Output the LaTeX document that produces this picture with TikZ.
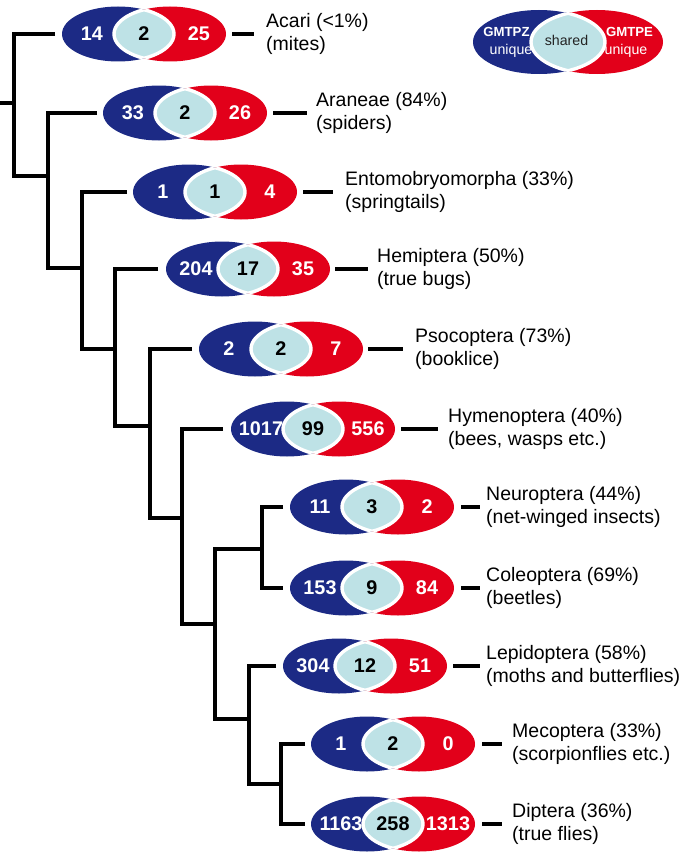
\documentclass[tikz,border=0pt]{standalone}
\usepackage{fontspec}
\setmainfont{Liberation Sans}
\definecolor{gblue}{RGB}{28,42,133}
\definecolor{gred}{RGB}{226,0,26}
\definecolor{lensc}{RGB}{190,226,230}
\definecolor{txtdark}{RGB}{35,35,35}
\tikzset{
  tree/.style={line width=3.3pt, line join=miter},
  dashline/.style={line width=3.3pt},
  lensrim/.style={draw=white, line width=3.4pt},
  num/.style={text=white, inner sep=0pt, font=\bfseries\fontsize{19.8}{22}\selectfont},
  numdark/.style={text=black, inner sep=0pt, font=\bfseries\fontsize{19.8}{22}\selectfont},
  lbl/.style={anchor=west, inner sep=0pt, align=left, text=black, font=\fontsize{19.5}{23}\selectfont},
}
\newcommand{\vpair}[9]{% #1 name, #2 cx, #3 cy, #4 blue, #5 shared, #6 red, #7 dash start x, #8 dash end x, #9 text x
  \coordinate (#1) at (#2,#3);
  \coordinate (#1-b) at (#2-26,#3);
  \coordinate (#1-r) at (#2+26,#3);
  \fill[gblue] (#1-b) ellipse [x radius=56pt, y radius=27.5pt];
  \fill[gred] (#1-r) ellipse [x radius=56pt, y radius=27.5pt];
  \begin{scope}
    \clip (#1-b) ellipse [x radius=56pt, y radius=27.5pt];
    \fill[lensc] (#1-r) ellipse [x radius=56pt, y radius=27.5pt];
    \draw[lensrim] (#1-r) ellipse [x radius=56pt, y radius=27.5pt];
  \end{scope}
  \begin{scope}
    \clip (#1-r) ellipse [x radius=56pt, y radius=27.5pt];
    \draw[lensrim] (#1-b) ellipse [x radius=56pt, y radius=27.5pt];
  \end{scope}
  \node[num] (#1-nb) at (#2-52,#3) {#4};
  \node[numdark] (#1-ns) at (#2,#3) {#5};
  \node[num] (#1-nr) at (#2+55,#3) {#6};
  \coordinate (#1-d1) at (#7,#3);
  \coordinate (#1-d2) at (#8,#3);
  \coordinate (#1-tx) at (#9,#3);
}
\begin{document}
\begin{tikzpicture}[x=1pt,y=-1pt]
\useasboundingbox (0,0) rectangle (682,859);

% ---- Venn pairs ----
\vpair{acari}{144}{34}{14}{2}{25}{232}{254}{266}
\vpair{aran}{185}{113}{33}{2}{26}{273}{307}{316}
\vpair{ento}{215}{192}{1}{1}{4}{303}{333}{345}
\vpair{hemi}{248}{269}{204}{17}{35}{335}{368}{377}
\vpair{psoc}{281}{349}{2}{2}{7}{368}{403}{415}
\vpair{hyme}{313}{429}{1017}{99}{556}{401}{438}{448}
\vpair{neur}{372}{507}{11}{3}{2}{461}{480}{486}
\vpair{cole}{372}{588}{153}{9}{84}{461}{480}{486}
\vpair{lepi}{365}{666}{304}{12}{51}{453}{480}{486}
\vpair{meco}{393}{744}{1}{2}{0}{482}{502}{512}
\vpair{dipt}{393}{824}{1163}{258}{1313}{482}{502}{512}

% ---- labels ----
\node[lbl] (acari-t) at (acari-tx) {Acari (<1\%)\\(mites)};
\node[lbl] (aran-t) at (aran-tx) {Araneae (84\%)\\(spiders)};
\node[lbl] (ento-t) at (ento-tx) {Entomobryomorpha (33\%)\\(springtails)};
\node[lbl] (hemi-t) at (hemi-tx) {Hemiptera (50\%)\\(true bugs)};
\node[lbl] (psoc-t) at (psoc-tx) {Psocoptera (73\%)\\(booklice)};
\node[lbl] (hyme-t) at (hyme-tx) {Hymenoptera (40\%)\\(bees, wasps etc.)};
\node[lbl] (neur-t) at (neur-tx) {Neuroptera (44\%)\\(net-winged insects)};
\node[lbl] (cole-t) at (cole-tx) {Coleoptera (69\%)\\(beetles)};
\node[lbl] (lepi-t) at (lepi-tx) {Lepidoptera (58\%)\\(moths and butterflies)};
\node[lbl] (meco-t) at (meco-tx) {Mecoptera (33\%)\\(scorpionflies etc.)};
\node[lbl] (dipt-t) at (dipt-tx) {Diptera (36\%)\\(true flies)};

% ---- dashes between pairs and labels ----
\foreach \n in {acari,aran,ento,hemi,psoc,hyme,neur,cole,lepi,meco,dipt}{
  \draw[dashline] (\n-d1) -- (\n-d2);
}

% ---- tree ----
\coordinate (root) at (0,103);
\coordinate (nA) at (14,103);
\coordinate (nB) at (48,176);
\coordinate (nC) at (82,268);
\coordinate (nD) at (115,349);
\coordinate (nE) at (150,426);
\coordinate (nF) at (182,518);
\coordinate (nG) at (215,624);
\coordinate (nH) at (262,549);
\coordinate (nI) at (249,719);
\coordinate (nJ) at (281,784);
\coordinate (lacari) at (55,34);
\coordinate (laran) at (97,113);
\coordinate (lento) at (127,192);
\coordinate (lhemi) at (158,269);
\coordinate (lpsoc) at (192,349);
\coordinate (lhyme) at (223,429);
\coordinate (lneur) at (283,507);
\coordinate (lcole) at (283,588);
\coordinate (llepi) at (276,666);
\coordinate (lmeco) at (305,744);
\coordinate (ldipt) at (305,824);

\draw[tree] (root) -- (nA);
\draw[tree] (lacari) -| (nA) |- (nB);
\draw[tree] (laran) -| (nB) |- (nC);
\draw[tree] (lento) -| (nC) |- (nD);
\draw[tree] (lhemi) -| (nD) |- (nE);
\draw[tree] (lpsoc) -| (nE) |- (nF);
\draw[tree] (lhyme) -| (nF) |- (nG);
\draw[tree] (nH) -| (nG) |- (nI);
\draw[tree] (lneur) -| (nH) |- (lcole);
\draw[tree] (llepi) -| (nI) |- (nJ);
\draw[tree] (lmeco) -| (nJ) |- (ldipt);

% ---- legend ----
\coordinate (leg) at (568,42);
\coordinate (leg-b) at (539,42);
\coordinate (leg-r) at (597,42);
\fill[gblue] (leg-b) ellipse [x radius=66pt, y radius=32pt];
\fill[gred] (leg-r) ellipse [x radius=66pt, y radius=32pt];
\begin{scope}
  \clip (leg-b) ellipse [x radius=66pt, y radius=32pt];
  \fill[lensc] (leg-r) ellipse [x radius=66pt, y radius=32pt];
  \draw[lensrim] (leg-r) ellipse [x radius=66pt, y radius=32pt];
\end{scope}
\begin{scope}
  \clip (leg-r) ellipse [x radius=66pt, y radius=32pt];
  \draw[lensrim] (leg-b) ellipse [x radius=66pt, y radius=32pt];
\end{scope}
\node[anchor=base, inner sep=0pt, text=white, font=\bfseries\fontsize{13.2}{15}\selectfont] (legz) at (506.5,37) {GMTPZ};
\node[anchor=base, inner sep=0pt, text=white, font=\fontsize{14.2}{16}\selectfont] (legzu) at (511,55) {unique};
\node[anchor=base, inner sep=0pt, text=txtdark, font=\fontsize{14.2}{16}\selectfont] (legs) at (566.5,46) {shared};
\node[anchor=base, inner sep=0pt, text=white, font=\bfseries\fontsize{13.2}{15}\selectfont] (lege) at (629.5,37) {GMTPE};
\node[anchor=base, inner sep=0pt, text=white, font=\fontsize{14.2}{16}\selectfont] (legeu) at (626,55) {unique};
\end{tikzpicture}
\end{document}
